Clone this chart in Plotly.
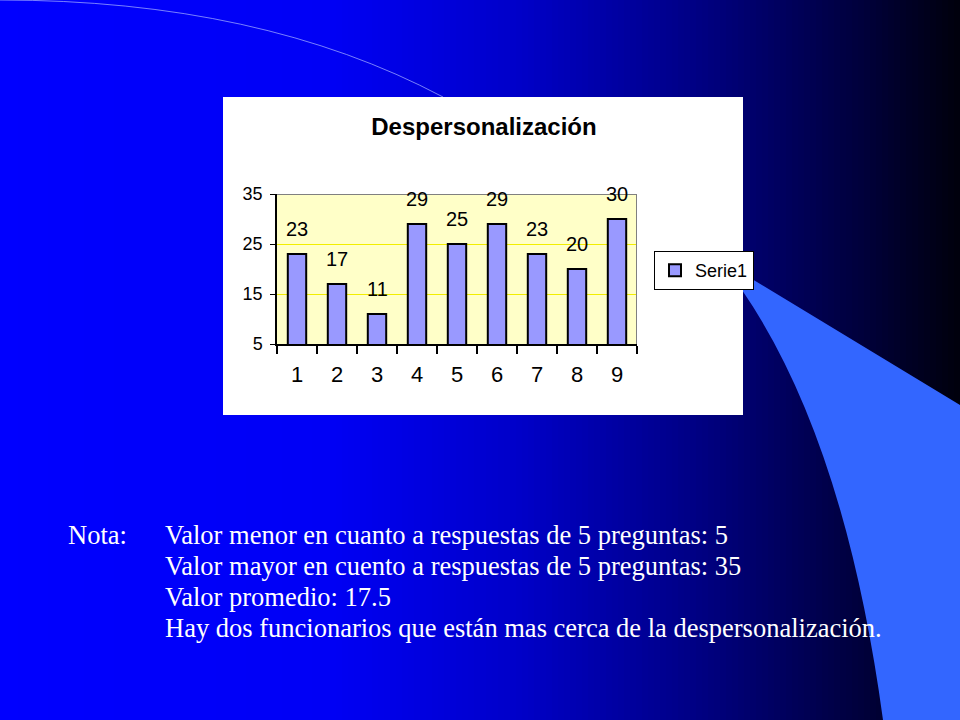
import plotly.graph_objects as go

# chart data
categories = ['1', '2', '3', '4', '5', '6', '7', '8', '9']
values = [23, 17, 11, 29, 25, 29, 23, 20, 30]
y_ticks = [5, 15, 25, 35]
series_name = 'Serie1'
chart_title = 'Despersonalización'

note_label = 'Nota:'
note_lines = [
    'Valor menor en cuanto a respuestas de 5 preguntas: 5',
    'Valor mayor en cuento a respuestas de 5 preguntas: 35',
    'Valor promedio: 17.5',
    'Hay dos funcionarios que están mas cerca de la despersonalización.',
]

W = 960
H = 720


def px(x):
    return x / W


def py(y):
    return 1 - y / H


# slide background: horizontal blue -> black gradient (stops in pixel x, rgb)
grad_stops = [(0, (0, 0, 255)), (330, (0, 0, 245)), (520, (0, 0, 200)),
              (700, (0, 0, 130)), (860, (0, 0, 60)), (960, (0, 0, 12))]


def grad_color(x):
    for (x0, c0), (x1, c1) in zip(grad_stops[:-1], grad_stops[1:]):
        if x0 <= x <= x1:
            t = (x - x0) / (x1 - x0)
            c = [round(a + (b - a) * t) for a, b in zip(c0, c1)]
            return 'rgb(%d,%d,%d)' % tuple(c)
    return 'rgb(0,0,12)'


shapes = []
step = 6
for x in range(0, W, step):
    shapes.append(dict(type='rect', xref='paper', yref='paper', layer='below',
                       x0=px(x), x1=px(x + step + 1), y0=0, y1=1,
                       fillcolor=grad_color(x + step / 2), line=dict(width=0)))

# light blue swoosh on the right
swoosh = 'M %f,%f L %f,%f L %f,%f L %f,%f Q %f,%f %f,%f Z' % (
    px(742), py(273), px(960), py(405), px(960), py(720), px(883), py(720),
    px(845), py(440), px(742), py(290))
shapes.append(dict(type='path', xref='paper', yref='paper', layer='below',
                   path=swoosh, fillcolor='#3366ff', line=dict(width=0)))

# faint arc top left
arc = 'M %f,%f Q %f,%f %f,%f' % (px(0), py(0), px(260), py(0), px(443), py(97))
shapes.append(dict(type='path', xref='paper', yref='paper', layer='below',
                   path=arc, line=dict(color='rgba(150,160,255,0.8)', width=1)))

# white chart box
shapes.append(dict(type='rect', xref='paper', yref='paper', layer='below',
                   x0=px(223), x1=px(743), y0=py(415), y1=py(97),
                   fillcolor='white', line=dict(width=0)))

# yellow plot area + grey top/right border
x_lo = -0.5
x_hi = len(categories) - 0.5
shapes.append(dict(type='rect', xref='x', yref='y', layer='below',
                   x0=x_lo, x1=x_hi, y0=y_ticks[0], y1=y_ticks[-1],
                   fillcolor='#ffffc8', line=dict(width=0)))
shapes.append(dict(type='line', xref='x', yref='y', layer='above',
                   x0=x_lo, x1=x_hi, y0=y_ticks[-1], y1=y_ticks[-1],
                   line=dict(color='#808080', width=2)))
shapes.append(dict(type='line', xref='x', yref='y', layer='above',
                   x0=x_hi, x1=x_hi, y0=y_ticks[0], y1=y_ticks[-1],
                   line=dict(color='#808080', width=2)))

fig = go.Figure()
fig.add_trace(go.Bar(x=categories, y=values, name=series_name,
                     marker=dict(color='#9999ff',
                                 line=dict(color='black', width=2)),
                     showlegend=True, hoverinfo='skip'))

annotations = []
# data labels above the bars (x given as category index)
for i, v in enumerate(values):
    annotations.append(dict(x=i, y=v, xref='x', yref='y', text=str(v),
                            showarrow=False, yshift=25,
                            font=dict(family='Liberation Sans', size=20, color='black')))

# note text under the chart
serif = dict(family='Liberation Serif', size=26.5, color='white')
annotations.append(dict(x=px(66), y=py(535), xref='paper', yref='paper',
                        text=note_label, showarrow=False, xanchor='left',
                        yanchor='middle', font=serif))
for i, line in enumerate(note_lines):
    annotations.append(dict(x=px(163), y=py(535 + 31 * i), xref='paper', yref='paper',
                            text=line, showarrow=False, xanchor='left',
                            yanchor='middle', font=serif))

fig.update_layout(
    width=W, height=H,
    margin=dict(l=0, r=0, t=0, b=0, pad=0, autoexpand=False),
    paper_bgcolor='#0000ff',
    plot_bgcolor='rgba(0,0,0,0)',
    title=dict(text='<b>' + chart_title + '</b>', x=px(484), y=py(127),
               xanchor='center', yanchor='middle', automargin=False,
               font=dict(family='Liberation Sans', size=24, color='black')),
    xaxis=dict(domain=[px(277), px(637)], type='category',
               tickson='boundaries', ticks='outside', ticklen=8,
               tickcolor='black', tickwidth=1.5, showline=True,
               linecolor='black', linewidth=1.5, showgrid=False,
               ticklabelstandoff=10, range=[x_lo, x_hi], automargin=False,
               tickfont=dict(family='Liberation Sans', size=22, color='black')),
    yaxis=dict(domain=[py(344), py(194)], range=[y_ticks[0], y_ticks[-1]],
               tickvals=y_ticks, ticks='outside', ticklen=5,
               tickcolor='black', showline=True, linecolor='black',
               linewidth=1.5, gridcolor='#f2ee00', gridwidth=1,
               zeroline=False, automargin=False, ticklabelstandoff=4,
               tickfont=dict(family='Liberation Sans', size=18, color='black')),
    bargap=0.54,
    showlegend=True,
    legend=dict(x=px(654), y=py(251), xanchor='left', yanchor='top',
                bgcolor='white', bordercolor='black', borderwidth=1,
                itemwidth=30,
                font=dict(family='Liberation Sans', size=18, color='black')),
    shapes=shapes,
    annotations=annotations,
)

fig.write_html("out.html", config={'displayModeBar': False},
               post_script="document.body.style.margin='0';document.body.style.overflow='hidden';")
